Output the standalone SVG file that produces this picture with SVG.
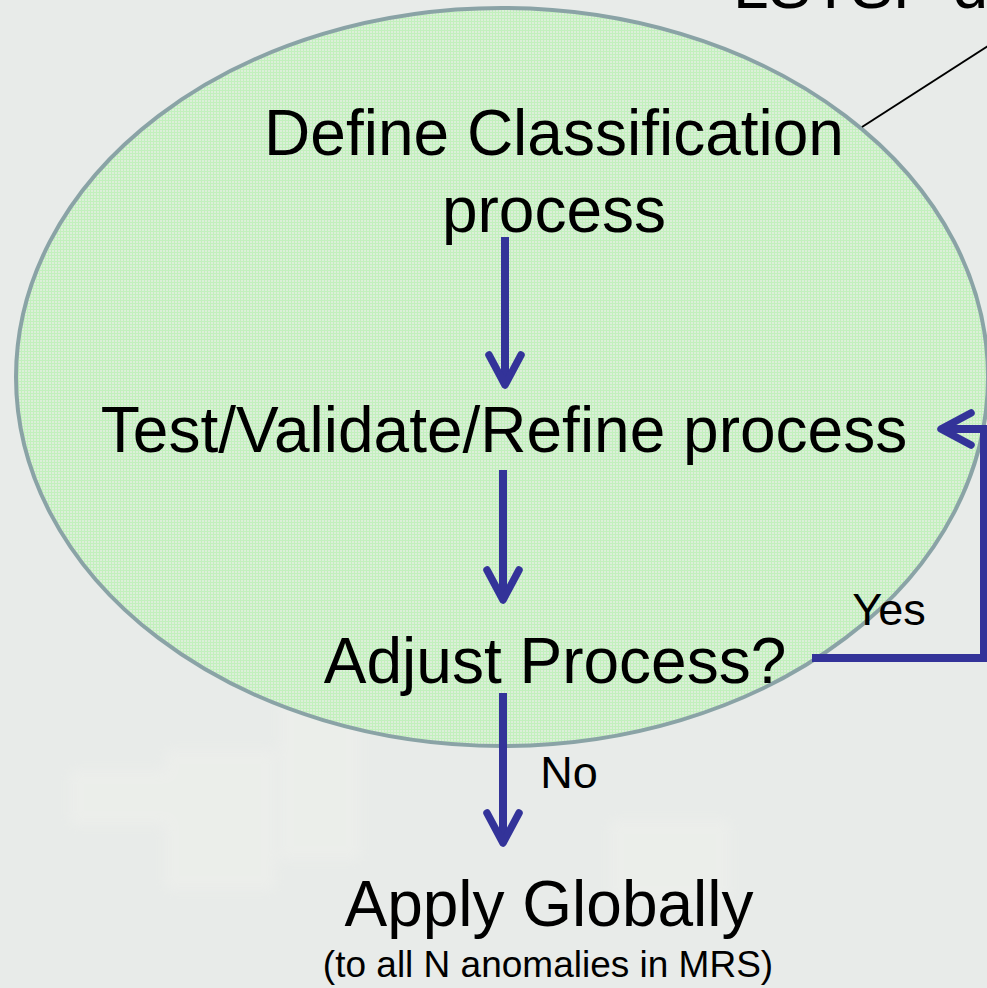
<svg xmlns="http://www.w3.org/2000/svg" width="987" height="988" viewBox="0 0 987 988">
<defs>
<pattern id="grid" width="3" height="3" patternUnits="userSpaceOnUse">
<rect width="3" height="3" fill="#dcefd9"/>
<path d="M0 0.5H3M0.5 0V3" stroke="#c2f0bd" stroke-width="1"/>
</pattern>
<filter id="soft" x="-20%" y="-20%" width="140%" height="140%"><feGaussianBlur stdDeviation="6"/></filter>
<marker id="chev" viewBox="0 0 40 40" refX="35" refY="20" markerWidth="40" markerHeight="40" orient="auto" markerUnits="userSpaceOnUse">
<path d="M5 4L35 20L5 36" fill="none" stroke="#333399" stroke-width="7.5" stroke-linecap="round" stroke-linejoin="round"/>
</marker>
<style>
.t{font-family:"Liberation Sans",Arial,sans-serif;fill:#000;text-anchor:middle}
.big{font-size:64px}
.mid{font-size:45px}
.small{font-size:37px}
.c{fill:none;stroke:#333399;stroke-width:8;marker-end:url(#chev)}
</style>
</defs>
<rect width="987" height="988" fill="#e8ebe9"/>
<g id="bgblur" opacity="0.3" fill="#f5f5ef" filter="url(#soft)">
<rect x="70" y="770" width="180" height="55"/>
<rect x="165" y="750" width="110" height="140"/>
<rect x="280" y="700" width="80" height="160"/>
<rect x="610" y="820" width="120" height="80"/>
</g>
<g id="ellipse">
<ellipse cx="502" cy="377" rx="486" ry="369" fill="url(#grid)" stroke="#8aa3a6" stroke-width="4"/>
</g>
<g id="topnote">
<text class="t big" x="733" y="8" style="text-anchor:start">LSTSP do</text>
<line x1="862" y1="127" x2="988" y2="46" stroke="#000" stroke-width="2"/>
</g>
<g id="define">
<text class="t big" x="554" y="155">Define Classification</text>
<text class="t big" x="554" y="232">process</text>
</g>
<g id="test">
<text class="t big" x="504" y="452">Test/Validate/Refine process</text>
</g>
<g id="adjust">
<text class="t big" x="555" y="683">Adjust Process?</text>
</g>
<g id="apply">
<text class="t big" x="549" y="926">Apply Globally</text>
<text class="t small" x="548" y="977">(to all N anomalies in MRS)</text>
</g>
<g id="connectors">
<line class="c" x1="505" y1="237" x2="505" y2="385"/>
<line class="c" x1="503" y1="470" x2="503" y2="600"/>
<line class="c" x1="503" y1="693" x2="503" y2="843"/>
<polyline class="c" points="812,658 984,658 984,429 941,429"/>
<text class="t mid" x="889" y="625">Yes</text>
<text class="t mid" x="569" y="788">No</text>
</g>
</svg>
